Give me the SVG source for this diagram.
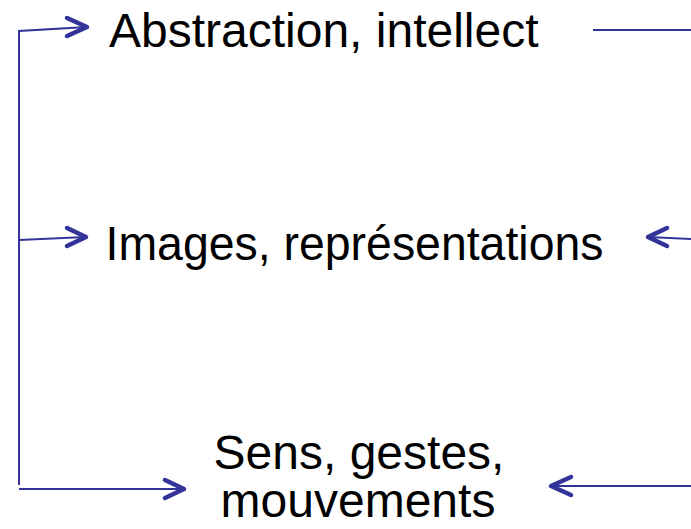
<svg xmlns="http://www.w3.org/2000/svg" width="691" height="529" viewBox="0 0 691 529">
<style>
.t{font-family:"Liberation Sans",Arial,sans-serif;font-size:48px;fill:#000}
.ln{stroke:#333399;stroke-width:2;fill:none}
.hd{stroke:#333399;stroke-width:4.5;fill:none;stroke-linecap:round;stroke-linejoin:round}
</style>
<rect width="691" height="529" fill="#fff"/>
<g id="n-abstraction"><text class="t" x="109" y="47">Abstraction, intellect</text></g>
<g id="n-images"><text class="t" x="105.5" y="260" textLength="498" lengthAdjust="spacingAndGlyphs">Images, représentations</text></g>
<g id="n-sens"><text class="t" x="359" y="469" text-anchor="middle">Sens, gestes,</text><text class="t" x="358" y="517" text-anchor="middle">mouvements</text></g>
<g id="connectors">
<path class="ln" d="M19,485 V31 L87,27"/>
<path class="hd" d="M67,18 L87,27 L67,36"/>
<path class="ln" d="M19,240 L86,237"/>
<path class="hd" d="M67,228 L86,237 L67,246"/>
<path class="ln" d="M19,489 H184"/>
<path class="hd" d="M165,480 L184,489 L165,498"/>
<path class="ln" d="M593,30 H691"/>
<path class="ln" d="M691,239 L648,237"/>
<path class="hd" d="M667,228 L648,237 L667,246"/>
<path class="ln" d="M691,486 H551"/>
<path class="hd" d="M571,477 L551,486 L571,495"/>
</g>
</svg>
